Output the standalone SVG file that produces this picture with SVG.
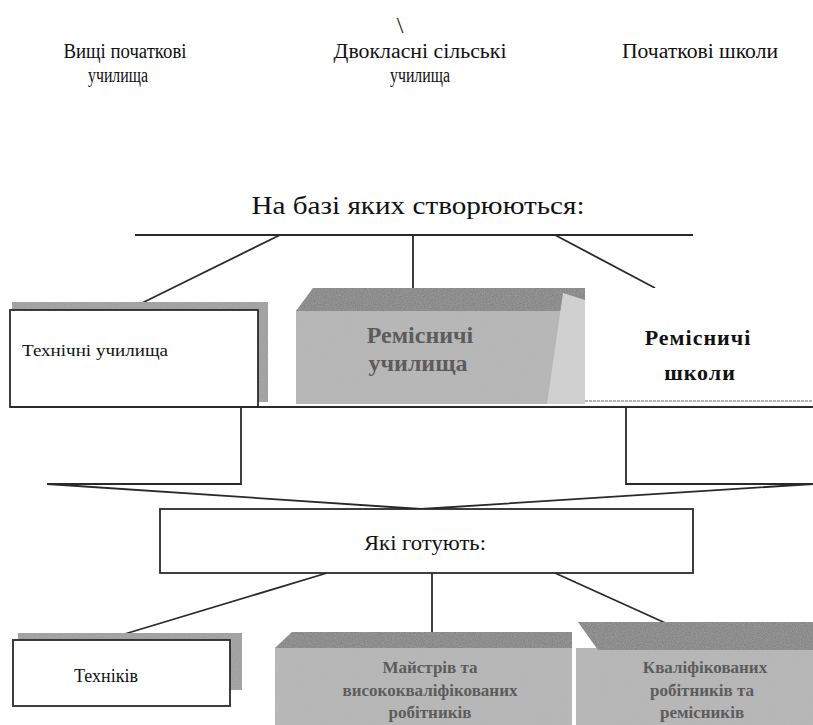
<svg xmlns="http://www.w3.org/2000/svg" width="813" height="725" viewBox="0 0 813 725">
<style>
.t{font-family:"Liberation Serif","DejaVu Serif",serif;fill:#111;text-anchor:middle}
.ln{stroke:#2a2a2a;stroke-width:1.8;fill:none}
.box{fill:#fff;stroke:#2a2a2a;stroke-width:1.8}
.shadow{fill:#9a9a9a}
.front{fill:#b5b5b5}
.roof{fill:#7a7a7a}
.gt{font-family:"Liberation Serif","DejaVu Serif",serif;font-weight:bold;fill:#5c5c5c;text-anchor:middle}
</style>
<defs>
<filter id="grain" x="0" y="0" width="100%" height="100%">
<feTurbulence type="fractalNoise" baseFrequency="0.9" numOctaves="2" seed="3" result="n"/>
<feColorMatrix in="n" type="matrix" values="0 0 0 0 0.5  0 0 0 0 0.5  0 0 0 0 0.5  0 0 0 0.5 0" result="g"/>
<feComposite in="g" in2="SourceGraphic" operator="in" result="gc"/>
<feMerge><feMergeNode in="SourceGraphic"/><feMergeNode in="gc"/></feMerge>
</filter>
</defs>
<rect width="813" height="725" fill="#fff"/>

<g id="top-labels">
<text class="t" x="400" y="33" font-size="24">\</text>
<text class="t" x="125" y="58" font-size="20" textLength="123" lengthAdjust="spacingAndGlyphs">Вищі початкові</text>
<text class="t" x="118" y="82" font-size="20" textLength="60" lengthAdjust="spacingAndGlyphs">училища</text>
<text class="t" x="420" y="58" font-size="20" textLength="173" lengthAdjust="spacingAndGlyphs">Двокласні сільські</text>
<text class="t" x="420" y="82" font-size="20" textLength="60" lengthAdjust="spacingAndGlyphs">училища</text>
<text class="t" x="700" y="58" font-size="20" textLength="156" lengthAdjust="spacingAndGlyphs">Початкові школи</text>
</g>

<g id="heading">
<text class="t" x="418" y="214" font-size="25" textLength="333" lengthAdjust="spacingAndGlyphs">На базі яких створюються:</text>
</g>

<g id="connectors">
<line class="ln" x1="135" y1="235" x2="693" y2="235"/>
<line class="ln" x1="280" y1="235" x2="138" y2="305"/>
<line class="ln" x1="413" y1="235" x2="413" y2="290"/>
<line class="ln" x1="555" y1="235" x2="655" y2="288"/>
<line class="ln" x1="327" y1="573" x2="118" y2="636"/>
<line class="ln" x1="432" y1="573" x2="432" y2="632"/>
<line class="ln" x1="555" y1="573" x2="672" y2="626"/>
</g>

<g id="tech-schools">
<rect class="shadow" x="12" y="302" width="256" height="100" filter="url(#grain)"/>
<rect class="box" x="10" y="310" width="248" height="97"/>
<text class="t" x="95" y="356" font-size="17" fill="#333" textLength="146" lengthAdjust="spacingAndGlyphs">Технічні училища</text>
</g>

<g id="craft-colleges">
<path class="front" d="M296 310 L585 310 L585 404 L296 404 Z" filter="url(#grain)"/>
<path class="roof" d="M296 311 L313 288 L585 288 L585 311 Z" filter="url(#grain)"/>
<path fill="#d0d0d0" d="M547 404 L563 293 L585 300 L585 404 Z"/>
<text class="gt" x="420" y="343" font-size="24">Ремісничі</text>
<text class="gt" x="418" y="371" font-size="24">училища</text>
</g>

<g id="craft-schools">
<rect x="585" y="288" width="228" height="112" fill="#fff"/>
<line x1="585" y1="401" x2="813" y2="401" stroke="#999" stroke-width="1.5" stroke-dasharray="3 1"/>
<text class="t" x="698" y="345" font-size="22" font-weight="bold" letter-spacing="1">Ремісничі</text>
<text class="t" x="700" y="380" font-size="22" font-weight="bold" letter-spacing="1">школи</text>
</g>

<g id="arrow">
<line class="ln" x1="10" y1="407" x2="813" y2="407"/>
<path class="ln" d="M241 407 L241 484 L47 484 L421 509 L813 484 L626 484 L626 407"/>
</g>

<g id="which-prepare">
<rect class="box" x="160" y="509" width="533" height="64"/>
<text class="t" x="425" y="550" font-size="22" textLength="122" lengthAdjust="spacingAndGlyphs">Які готують:</text>
</g>

<g id="technicians">
<rect class="shadow" x="18" y="633" width="224" height="57" filter="url(#grain)"/>
<rect class="box" x="13" y="640" width="217" height="66"/>
<text class="t" x="106" y="682" font-size="18" fill="#333">Техніків</text>
</g>

<g id="masters">
<path class="front" d="M275 648 L572 648 L572 725 L275 725 Z" filter="url(#grain)"/>
<path class="roof" d="M275 648 L292 632 L572 632 L572 648 Z" filter="url(#grain)"/>
<text class="gt" x="430" y="673" font-size="17">Майстрів та</text>
<text class="gt" x="430" y="696" font-size="17">висококваліфікованих</text>
<text class="gt" x="430" y="718" font-size="17">робітників</text>
</g>

<g id="qualified">
<path class="front" d="M576 648 L813 648 L813 725 L576 725 Z" filter="url(#grain)"/>
<path class="roof" d="M578 622 L813 622 L813 650 L598 650 Z" filter="url(#grain)"/>
<text class="gt" x="705" y="673" font-size="17">Кваліфікованих</text>
<text class="gt" x="702" y="696" font-size="17">робітників та</text>
<text class="gt" x="702" y="718" font-size="17">ремісників</text>
</g>
</svg>
